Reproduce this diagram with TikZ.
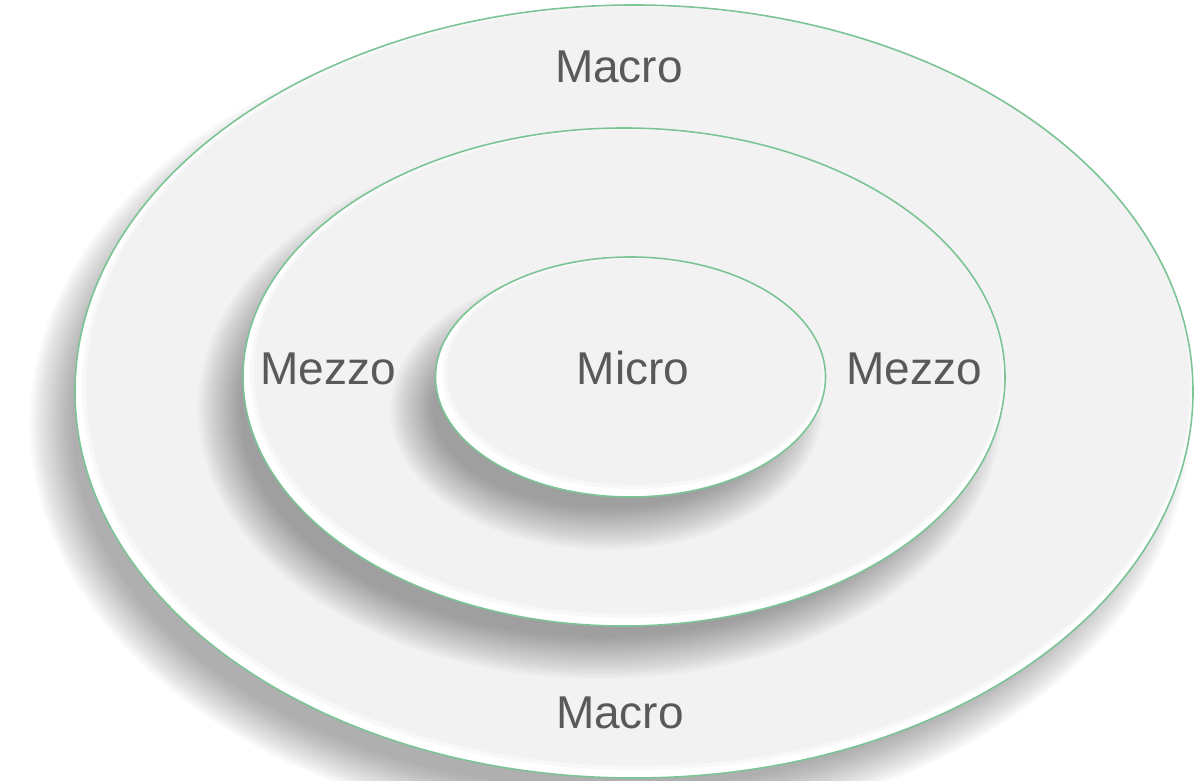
\documentclass[tikz,border=0pt]{standalone}
\usepackage{fontspec}
\setmainfont{Liberation Sans}
\definecolor{platefill}{HTML}{F2F2F2}
\definecolor{rimgreen}{HTML}{7CC496}
\definecolor{labelgray}{HTML}{595959}
\tikzset{
  rim/.style={draw=rimgreen, line width=1.6pt},
  label/.style={anchor=base, inner sep=0pt, text=labelgray,
    font=\fontsize{46}{52}\selectfont},
}
% one plate: soft shadow to the lower left, white bevel, grey face, green rim
\newcommand\ringplate[4]{%
  \foreach \k in {0,...,15}{%
    \fill[black, fill opacity=0.024] (#1-24,#2+32)
      ellipse [x radius=#3pt+21pt-2.8pt*\k, y radius=#4pt+21pt-2.8pt*\k];
  }
  \fill[white] (#1,#2) ellipse [x radius=#3pt, y radius=#4pt];
  \fill[platefill, fill opacity=0.5] (#1+3,#2-4) ellipse [x radius=#3pt-4pt, y radius=#4pt-4pt];
  \fill[platefill] (#1+4,#2-5) ellipse [x radius=#3pt-7pt, y radius=#4pt-7pt];
  \draw[rim] (#1,#2) ellipse [x radius=#3pt, y radius=#4pt];
}
\begin{document}
\begin{tikzpicture}[x=1pt, y=-1pt]
  \useasboundingbox (0,0) rectangle (1194,781);
  \begin{scope}
    \clip (0,0) rectangle (1194,781);
    \ringplate{634}{391.5}{559}{386.5}
    \ringplate{624}{377}{381}{249}
    \ringplate{630.5}{377}{195}{120}
  \end{scope}
  \node[label] (macrotop) at (619,83) {Macro};
  \node[label] (macrobot) at (620,728) {Macro};
  \node[label] (mezzoleft) at (328,384) {Mezzo};
  \node[label] (mezzoright) at (914,384) {Mezzo};
  \node[label] (micro) at (633,384) {Micro};
\end{tikzpicture}
\end{document}
